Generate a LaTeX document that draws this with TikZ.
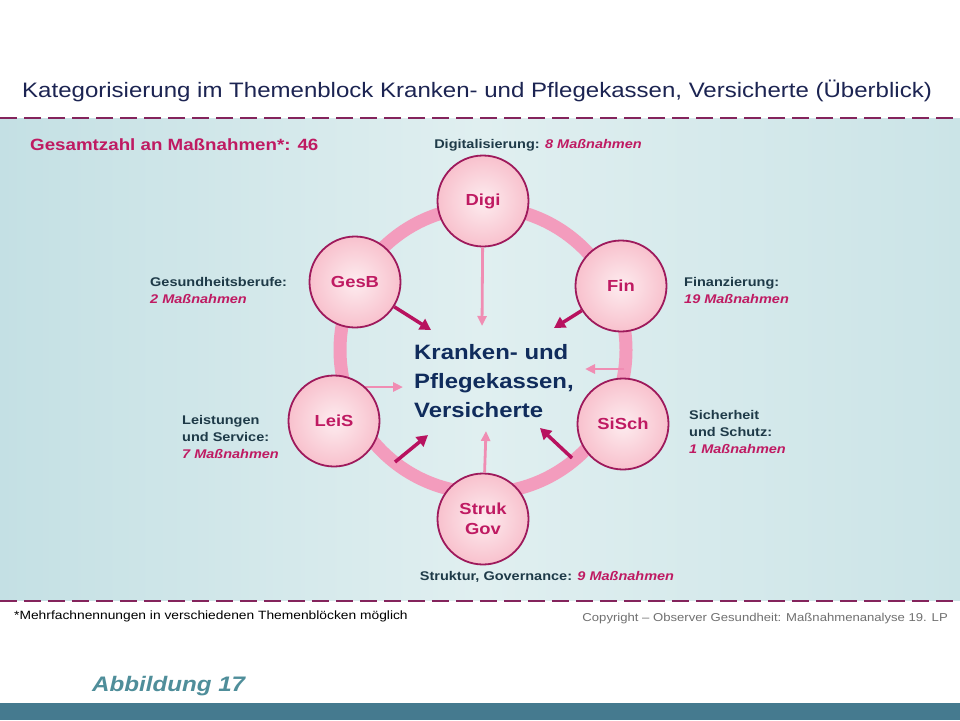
\documentclass[tikz,border=0pt]{standalone}
\usepackage{fontspec}
\setmainfont{Liberation Sans}[FakeStretch=1.15]
\usetikzlibrary{arrows.meta,positioning}
\definecolor{titleblue}{HTML}{1C2452}
\definecolor{dashplum}{HTML}{84245C}
\definecolor{panelleft}{HTML}{C4E0E4}
\definecolor{panelmid}{HTML}{E0EFF0}
\definecolor{panelright}{HTML}{CBE4E7}
\definecolor{barteal}{HTML}{457A8F}
\definecolor{figteal}{HTML}{4F8E9A}
\definecolor{ringpink}{HTML}{F39CBD}
\definecolor{lightpink}{HTML}{F08DB3}
\definecolor{darkmag}{HTML}{B8125F}
\definecolor{circborder}{HTML}{9E1A5C}
\definecolor{circin}{HTML}{FDECEF}
\definecolor{circout}{HTML}{F8C1CD}
\definecolor{labelmag}{HTML}{BF1A62}
\definecolor{labeldark}{HTML}{1E3A48}
\definecolor{centerblue}{HTML}{102C5C}
\definecolor{notegray}{HTML}{707070}
\tikzset{
    topic circle/.style={
        circle, draw=circborder, line width=1.8pt,
        inner color=circin, outer color=circout,
        minimum size=91pt, inner sep=0pt,
        font=\fontsize{16}{20}\selectfont\bfseries, text=labelmag, align=center
    },
    ring/.style={ringpink, line width=13pt},
    dark arrow/.style={
        darkmag, line width=3.5pt,
        -{Triangle[length=11pt,width=12pt]}
    },
    light arrow/.style={
        lightpink, line width=2.8pt,
        -{Triangle[length=10pt,width=9pt]}
    },
    side label/.style={
        font=\fontsize{12.6}{17}\selectfont\bfseries, text=labeldark,
        align=left, inner sep=0pt
    },
    dash rule/.style={dashplum, line width=2pt, dash pattern=on 17pt off 7pt}
}
\newcommand{\cnt}[1]{\textcolor{labelmag}{\itshape #1}}

\begin{document}
\begin{tikzpicture}[x=1pt,y=-1pt]
    \useasboundingbox (0,0) rectangle (960,720);
    \fill[white] (0,0) rectangle (960,720);
    % background panel and rules
    \shade[left color=panelleft, right color=panelright, middle color=panelmid]
        (0,118) rectangle (960,600);
    \draw[dash rule] (0,117.5) -- (960,117.5);
    \draw[dash rule] (0,600.5) -- (960,600.5);
    \fill[barteal] (0,703) rectangle (960,720);

    \node[anchor=base west, inner sep=0pt, text=titleblue, font=\fontsize{20.9}{24}\selectfont]
        (title) at (22,97) {Kategorisierung im Themenblock Kranken- und Pflegekassen, Versicherte (Überblick)};
    \node[anchor=base west, inner sep=0pt, text=labelmag, font=\fontsize{16.3}{20}\selectfont\bfseries]
        (total) at (30,150) {Gesamtzahl an Maßnahmen*: 46};

    % ring and topics
    \coordinate (mid) at (483,350);
    \draw[ring] (mid) circle (143pt);

    \coordinate (l-start) at (395,462);
    \coordinate (l-tip) at (428,435);
    \coordinate (s-start) at (572,458);
    \coordinate (s-tip) at (540,428);
    \coordinate (r-start) at (624,369);
    \coordinate (r-tip) at (585,369);
    \coordinate (w-start) at (350,387);
    \coordinate (w-tip) at (403,387);
    \coordinate (d-tip) at (482,326);
    \coordinate (g-tip) at (431,330);
    \coordinate (f-tip) at (554,328);
    \coordinate (u-tip) at (486,431);

    \draw[light arrow] (r-start) -- (r-tip);
    \draw[light arrow] (w-start) -- (w-tip);
    \draw[dark arrow] (l-start) -- (l-tip);
    \draw[dark arrow] (s-start) -- (s-tip);

    \node[topic circle] (digi) at (483,201) {Digi};
    \node[topic circle] (gesb) at (355,282) {GesB};
    \node[topic circle] (fin) at (621,286) {Fin};
    \node[topic circle] (leis) at (334,421) {LeiS};
    \node[topic circle] (sisch) at (623,424) {SiSch};
    \node[topic circle] (struk) at (483,519) {Struk\\Gov};

    \draw[light arrow] (digi) -- (d-tip);
    \draw[light arrow] (struk) -- (u-tip);
    \draw[dark arrow] (gesb) -- (g-tip);
    \draw[dark arrow] (fin) -- (f-tip);

    \node[anchor=west, align=left, inner sep=0pt, text=centerblue,
        font=\fontsize{20.8}{29}\selectfont\bfseries]
        (center) at (414,381) {Kranken- und\\Pflegekassen,\\Versicherte};

    % labels
    \node[side label, anchor=base] (digi-lab) at (538,148) {Digitalisierung: \cnt{8 Maßnahmen}};
    \node[side label, anchor=west] (gesb-lab) at (150,290) {Gesundheitsberufe:\\\cnt{2 Maßnahmen}};
    \node[side label, anchor=west] (fin-lab) at (684,290) {Finanzierung:\\\cnt{19 Maßnahmen}};
    \node[side label, anchor=west] (leis-lab) at (182,437) {Leistungen\\und Service:\\\cnt{7 Maßnahmen}};
    \node[side label, anchor=west] (sisch-lab) at (689,432) {Sicherheit\\und Schutz:\\\cnt{1 Maßnahmen}};
    \node[side label, anchor=base] (struk-lab) at (547,580) {Struktur, Governance: \cnt{9 Maßnahmen}};

    % footer
    \node[anchor=base west, inner sep=0pt, font=\fontsize{12}{14}\selectfont]
        (note) at (14,619) {*Mehrfachnennungen in verschiedenen Themenblöcken möglich};
    \node[anchor=base east, inner sep=0pt, text=notegray, font=\fontsize{11.4}{14}\selectfont]
        (copy) at (948,621) {Copyright – Observer Gesundheit: Maßnahmenanalyse 19. LP};
    \node[anchor=base west, inner sep=0pt, text=figteal, font=\fontsize{21}{24}\selectfont\bfseries\itshape]
        (fig) at (92,691) {Abbildung 17};
\end{tikzpicture}
\end{document}
